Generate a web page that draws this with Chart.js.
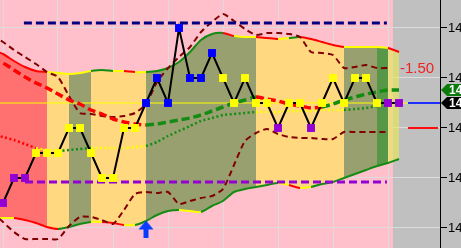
<!DOCTYPE html>
<html>
<head>
<meta charset="utf-8">
<script src="https://cdn.jsdelivr.net/npm/chart.js@4.4.1/dist/chart.umd.min.js"></script>
<style>
  html, body { margin: 0; padding: 0; background: #c0c0c0; overflow: hidden; }
</style>
</head>
<body>
<canvas id="bandChart" width="461" height="248"></canvas>
<script>
// bar index (bar -1 sits just left of the view)
const bars = [-1, 0, 1, 2, 3, 4, 5, 6, 7, 8, 9, 10, 11, 12, 13, 14, 15, 16, 17, 18,
  19, 20, 21, 22, 23, 24, 25, 26, 27, 28, 29, 30, 31, 32, 33, 34, 35, 36];

// closing price per bar and its signal (s = sell, n = neutral, b = buy)
const close = [null, 1426.25, 1426.5, 1426.5, 1426.75, 1426.75, 1426.75, 1427, 1427,
  1426.75, 1426.5, 1426.5, 1427, 1427, 1427.25, 1427.5, 1427.25, 1428, 1427.5, 1427.5,
  1427.75, 1427.5, 1427.25, 1427.5, 1427.25, 1427.25, 1427, 1427.25, 1427.25, 1427,
  1427.25, 1427.5, 1427.25, 1427.5, 1427.5, 1427.25, 1427.25, 1427.25];
const signal = "-sssnnnnnnnnnnbbbbbbbnnnnnsnnsnnnnnnss".split("");

// bands
const bandTop = [1427.78, 1427.74, 1427.67, 1427.61, 1427.57, 1427.56, 1427.55, 1427.54,
  1427.55, 1427.57, 1427.58, 1427.57, 1427.57, 1427.56, 1427.56, 1427.57, 1427.60, 1427.66,
  1427.76, 1427.88, 1427.94, 1427.95, 1427.92, 1427.91, 1427.91, 1427.90, 1427.89, 1427.90,
  1427.91, 1427.89, 1427.86, 1427.83, 1427.81, 1427.81, 1427.81, 1427.81, 1427.80, 1427.76];
const bandBottom = [1426.10, 1426.10, 1426.10, 1426.08, 1426.05, 1426.01, 1425.99, 1426.01,
  1426.04, 1426.06, 1426.06, 1426.05, 1426.03, 1426.03, 1426.07, 1426.13, 1426.17, 1426.18,
  1426.17, 1426.16, 1426.22, 1426.27, 1426.36, 1426.39, 1426.41, 1426.43, 1426.45, 1426.43,
  1426.40, 1426.41, 1426.44, 1426.46, 1426.50, 1426.54, 1426.58, 1426.62, 1426.65, 1426.69];
const midLine = [1427.68, 1427.65, 1427.58, 1427.51, 1427.45, 1427.40, 1427.34, 1427.28,
  1427.24, 1427.18, 1427.14, 1427.09, 1427.06, 1427.04, 1427.03, 1427.04, 1427.06, 1427.08,
  1427.10, 1427.13, 1427.17, 1427.21, 1427.25, 1427.28, 1427.31, 1427.29, 1427.27, 1427.24,
  1427.22, 1427.20, 1427.21, 1427.24, 1427.28, 1427.31, 1427.34, 1427.36, 1427.38, 1427.38];
const slowLine = [1426.94, 1426.91, 1426.88, 1426.84, 1426.80, 1426.78, 1426.77, 1426.78,
  1426.79, 1426.80, 1426.80, 1426.80, 1426.80, 1426.81, 1426.82, 1426.86, 1426.92, 1426.97,
  1427.02, 1427.07, 1427.10, 1427.13, 1427.14, 1427.15, 1427.16, 1427.16, 1427.16, 1427.17,
  1427.17, 1427.17, 1427.18, 1427.18, 1427.18, 1427.19, 1427.20, 1427.22, null, null];
const envTop = [1427.92, 1427.86, 1427.78, 1427.71, 1427.64, 1427.56, 1427.51, 1427.32,
  1427.15, 1427.14, 1427.12, 1427.11, 1427.12, 1427.15, 1427.24, 1427.46, 1427.60, 1427.71,
  1427.81, 1427.96, 1428.06, 1428.14, 1428.07, 1427.99, 1427.93, 1427.95, 1427.95, 1427.94,
  1427.91, 1427.76, 1427.75, 1427.73, 1427.60, 1427.61, 1427.63, 1427.60, 1427.60, null];
const envBottom = [1426.16, 1426.06, 1425.96, 1425.89, 1425.89, 1425.89, 1425.89, 1426.02,
  1426.11, 1426.11, 1426.08, 1426.04, 1426.18, 1426.34, 1426.36, 1426.35, 1426.36, 1426.24,
  1426.27, 1426.30, 1426.32, 1426.39, 1426.63, 1426.87, 1426.95, 1426.99, 1426.94, 1426.91,
  1426.90, 1426.90, 1426.89, 1426.89, 1426.96, 1426.96, 1426.96, 1426.96, 1426.96, null];

// trend of each segment, starting at bar -1 (u = up, d = down, f = flat)
const topTrend = "dddddffffuufdfuuuuuuudffddfuddddffffd".split("");
const bottomTrend = "ffdddduuufddfuuuuffuuuuuuufdfuuuuuuuu".split("");
const midTrend = "ddddddddddddddssssssssssddddddsssssss".replace(/s/g, "u").split("");
const slowTrend = "ddddffuuufffffuuuuuuuuuuffffffffuuuuu".split("");
// zone between the bands (r = weak, y = neutral, o = strong, g = breakout, p = pending)
const zone = "rrrrryyooyyyyyooooooooooyyyyyyyyooogp".split("");

// levels
const highLevel = 1428.05;
const lowLevel = 1426.46;
const lastPrice = 1427.25;
const stopPrice = 1427.00;
const buyArrow = { bar: 13, price: 1425.99 };
const offsetLabel = "-1.50";

const xMin = -3 / 11, xMax = 40 - 3 / 11;
const sessionEnd = 35.45;

const trendColor = { u: "#148c14", d: "#ff0000", f: "#ffff00" };
const zoneColor = { r: "rgb(255,112,112)", y: "rgb(255,216,128)", o: "rgb(152,160,112)",
  g: "rgb(88,150,72)", p: "rgba(230,230,90,0.65)" };
const signalColor = { s: "#9400d3", n: "#ffff00", b: "#0000ff", "-": "#000" };

const pts = arr => bars.map((b, i) => ({ x: b, y: arr[i] }));
const flat = (from, to, v) => [{ x: from, y: v }, { x: to, y: v }];

// blue up arrow used as a point image
const arrow = document.createElement("canvas");
arrow.width = 16;
arrow.height = 17;
const a = arrow.getContext("2d");
a.fillStyle = "#0a3cff";
a.beginPath();
a.moveTo(8, 0); a.lineTo(15.5, 9); a.lineTo(10.5, 9); a.lineTo(10.5, 17);
a.lineTo(5.5, 17); a.lineTo(5.5, 9); a.lineTo(0.5, 9);
a.closePath();
a.fill();

const labelFont = '"Liberation Sans", Arial, sans-serif';

function drawTag(ctx, left, y, fill, text) {
  ctx.fillStyle = fill;
  ctx.beginPath();
  ctx.moveTo(left + 1, y);
  ctx.lineTo(left + 7, y - 6);
  ctx.lineTo(left + 40, y - 6);
  ctx.lineTo(left + 40, y + 6);
  ctx.lineTo(left + 7, y + 6);
  ctx.closePath();
  ctx.fill();
  ctx.fillStyle = "#fff";
  ctx.font = "bold 12px " + labelFont;
  ctx.textBaseline = "middle";
  ctx.textAlign = "left";
  ctx.fillText(text, left + 9, y + 0.5);
}

const backdrop = {
  id: "backdrop",
  beforeDraw(chart) {
    const { ctx, width, height } = chart;
    const edge = chart.scales.x.getPixelForValue(sessionEnd);
    ctx.save();
    ctx.fillStyle = "#ffc0cb";
    ctx.fillRect(0, 0, edge, height);
    ctx.fillStyle = "#c0c0c0";
    ctx.fillRect(edge, 0, width - edge, height);
    ctx.restore();
  },
  afterDraw(chart) {
    const { ctx } = chart;
    const x = chart.scales.x, y = chart.scales.y;
    ctx.save();
    ctx.fillStyle = "#ee2222";
    ctx.font = "15px " + labelFont;
    ctx.textBaseline = "middle";
    ctx.fillText(offsetLabel, x.getPixelForValue(36.09), y.getPixelForValue(1427.59));
    const last = midLine[midLine.length - 1];
    drawTag(ctx, y.left, y.getPixelForValue(last), "#0a7a0a", last.toFixed(2));
    drawTag(ctx, y.left, y.getPixelForValue(lastPrice), "#000", lastPrice.toFixed(2));
    ctx.restore();
  }
};

const ctx = document.getElementById("bandChart").getContext("2d");
const bandChart = new Chart(ctx, {
  type: "line",
  data: {
    datasets: [
      {
        // upper band, filled down to the lower band
        data: pts(bandTop),
        borderWidth: 2,
        tension: 0.25,
        fill: "+1",
        order: 9,
        segment: {
          borderColor: c => trendColor[topTrend[c.p0DataIndex]],
          backgroundColor: c => zoneColor[zone[c.p0DataIndex]],
        },
      },
      {
        data: pts(bandBottom),
        borderWidth: 2,
        tension: 0.25,
        order: 8,
        segment: { borderColor: c => trendColor[bottomTrend[c.p0DataIndex]] },
      },
      {
        // last price line
        data: flat(-1, 36.82, lastPrice),
        borderColor: "#ffff00",
        borderWidth: 1,
        order: 7,
      },
      {
        data: flat(36.82, xMax, lastPrice),
        borderColor: "#2030ff",
        borderWidth: 2,
        order: 7,
      },
      {
        data: flat(36.82, 39.55, stopPrice),
        borderColor: "#ff1010",
        borderWidth: 2,
        order: 7,
      },
      {
        data: pts(envTop),
        borderColor: "#800000",
        borderWidth: 2,
        borderDash: [6, 4],
        tension: 0.2,
        order: 6,
      },
      {
        data: pts(envBottom),
        borderColor: "#800000",
        borderWidth: 2,
        borderDash: [6, 4],
        tension: 0.2,
        order: 6,
      },
      {
        data: pts(slowLine),
        borderWidth: 2.5,
        borderDash: [2, 2.5],
        tension: 0.2,
        order: 5,
        segment: { borderColor: c => trendColor[slowTrend[c.p0DataIndex]] },
      },
      {
        data: pts(midLine),
        borderWidth: 3.5,
        borderDash: [8, 4],
        tension: 0.2,
        order: 4,
        segment: { borderColor: c => trendColor[midTrend[c.p0DataIndex]] },
      },
      {
        data: flat(1.9, 34.9, highLevel),
        borderColor: "#000080",
        borderWidth: 3,
        borderDash: [8, 4],
        order: 3,
      },
      {
        data: flat(2, 34.9, lowLevel),
        borderColor: "#9400d3",
        borderWidth: 3,
        borderDash: [8, 4],
        order: 3,
      },
      {
        data: [{ x: buyArrow.bar, y: buyArrow.price }],
        showLine: false,
        pointStyle: arrow,
        pointRadius: 8,
        order: 2,
      },
      {
        // closes with signal markers
        data: pts(close),
        borderColor: "#000",
        borderWidth: 2,
        pointStyle: "rect",
        pointRadius: 5.6,
        pointBorderWidth: 0,
        pointBackgroundColor: signal.map(s => signalColor[s]),
        pointBorderColor: signal.map(s => signalColor[s]),
        order: 0,
      },
    ],
  },
  options: {
    responsive: false,
    animation: false,
    devicePixelRatio: 1,
    layout: { padding: 0, autoPadding: false },
    elements: { point: { radius: 0, hoverRadius: 0 }, line: { fill: false } },
    plugins: { legend: { display: false }, tooltip: { enabled: false } },
    events: [],
    scales: {
      x: {
        type: "linear",
        min: xMin,
        max: xMax,
        ticks: { display: false },
        border: { display: false },
        grid: { color: "#dcdcdc", drawTicks: false },
        afterBuildTicks: s => { s.ticks = [0, 5, 10, 15, 20, 25, 30, 35].map(v => ({ value: v })); },
        afterFit: s => { s.height = 0; },
      },
      y: {
        position: "right",
        min: 1425.80,
        max: 1428.28,
        ticks: {
          stepSize: 0.5,
          includeBounds: false,
          padding: 1,
          color: "#000",
          font: { family: labelFont, size: 13 },
          callback: v => v.toFixed(2),
        },
        grid: { color: "#dcdcdc", tickColor: "#000", tickLength: 7 },
        border: { color: "#000", width: 1 },
        afterFit: s => { s.width = 21; s.paddingTop = 0; s.paddingBottom = 0; },
      },
    },
  },
  plugins: [backdrop],
});
</script>
</body>
</html>
